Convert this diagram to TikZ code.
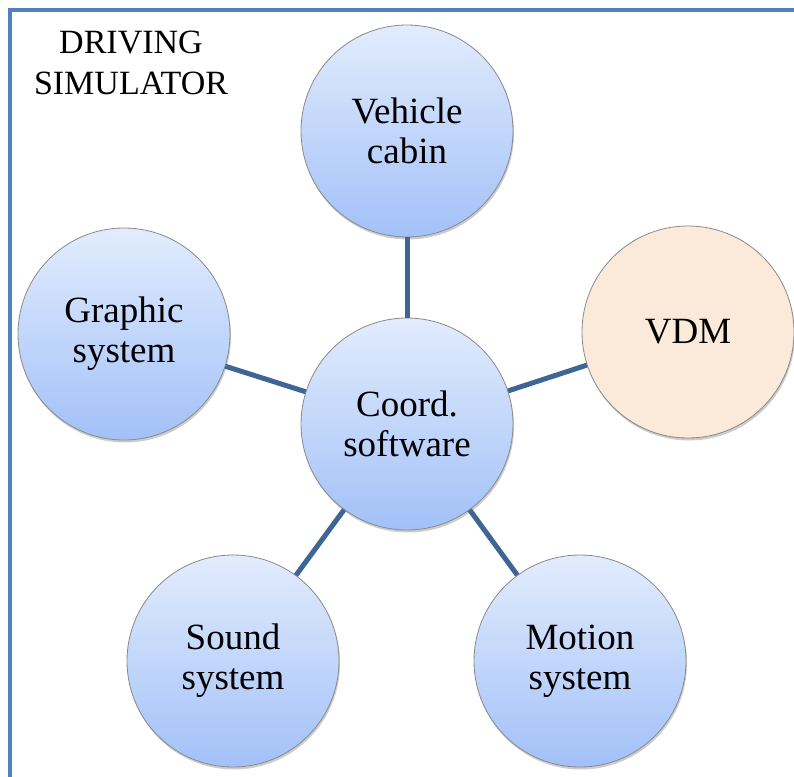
\documentclass[tikz,border=0pt]{standalone}
\usepackage{fontspec}
\setmainfont{Liberation Serif}
\usetikzlibrary{shadows}
\definecolor{framecol}{HTML}{4F81BD}
\definecolor{linkcol}{HTML}{3E6596}
\definecolor{topblue}{HTML}{E2ECFD}
\definecolor{botblue}{HTML}{A2C1F8}
\definecolor{vdmfill}{HTML}{FBE9DA}
\definecolor{rimcol}{HTML}{8A8A8A}
\tikzset{
  unit/.style={circle, minimum size=212pt, inner sep=0pt, draw=rimcol, line width=0.8pt,
    align=center, font=\fontsize{37}{40}\selectfont,
    drop shadow={shadow xshift=1pt, shadow yshift=-2.5pt, fill=black, opacity=0.2}},
  blueunit/.style={unit, top color=topblue, bottom color=botblue},
  peachunit/.style={unit, fill=vdmfill},
  link/.style={draw=linkcol, line width=5pt}
}
\begin{document}
\begin{tikzpicture}[x=1pt,y=-1pt]
\useasboundingbox (0,0) rectangle (794,776);
\clip (0,0) rectangle (794,776);
\fill[white] (0,0) rectangle (794,776);
\draw[framecol, line width=4pt] (10,10) rectangle (820,800);
\node[align=center, font=\fontsize{34}{41}\selectfont] (title) at (131,63) {DRIVING\\SIMULATOR};
\node[blueunit] (cabin) at (407,131) {Vehicle\\cabin};
\node[blueunit] (graphic) at (124,334) {Graphic\\system};
\node[peachunit] (vdm) at (688,332) {VDM};
\node[blueunit] (coord) at (407,424) {Coord.\\software};
\node[blueunit] (sound) at (233,661) {Sound\\system};
\node[blueunit] (motion) at (580,661) {Motion\\system};
\draw[link] (coord) -- (cabin);
\draw[link] (coord) -- (graphic);
\draw[link] (coord) -- (vdm);
\draw[link] (coord) -- (sound);
\draw[link] (coord) -- (motion);
\end{tikzpicture}
\end{document}
